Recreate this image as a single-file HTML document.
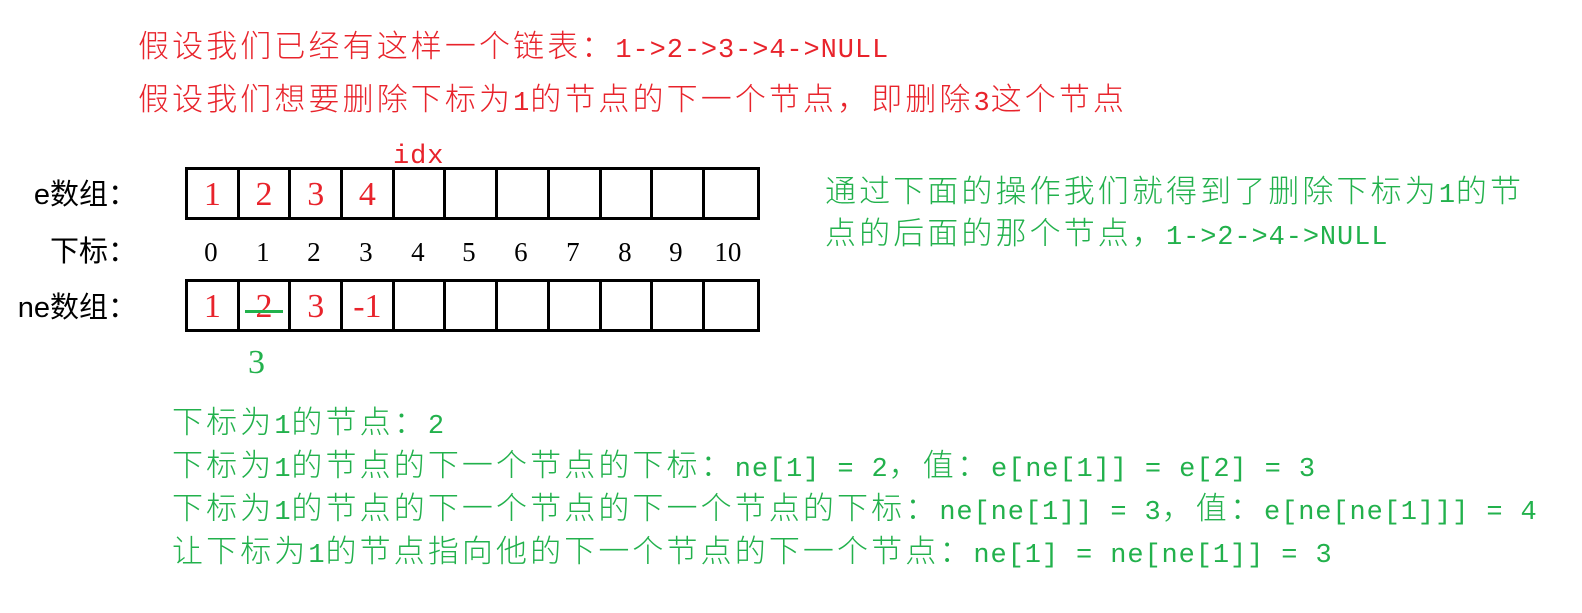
<!DOCTYPE html>
<html><head><meta charset="utf-8"><style>
body{margin:0;width:1582px;height:613px;background:#fff;position:relative;overflow:hidden;font-family:"Liberation Sans","Noto Sans CJK SC",sans-serif;}
.t{position:absolute;font-size:31px;letter-spacing:3.1px;white-space:nowrap;line-height:40px;font-weight:300;}
.l{font-family:"Liberation Mono",monospace;font-size:27px;letter-spacing:0.9px;}
.r{color:#e8232b}.g{color:#22b14c}
.row{position:absolute;left:185px;display:flex;border:3px solid #000;height:47px;box-sizing:content-box;}
.c{width:51.7px;height:47px;border-right:3px solid #000;box-sizing:border-box;font-family:"Liberation Serif",serif;font-size:34px;color:#e8232b;text-align:center;line-height:50px;position:relative;}
.c:last-child{border-right:none}
.idx{position:absolute;top:235px;font-family:"Liberation Serif",serif;font-size:27px;width:51.7px;text-align:center;line-height:34px;}
.lab{position:absolute;right:1445px;font-size:29px;line-height:40px;white-space:nowrap;font-family:"Liberation Sans","Noto Sans CJK SC",sans-serif;}
</style></head><body>
<div class="t r" style="left:138px;top:27px">假设我们已经有这样一个链表：<span class="l">1-&gt;2-&gt;3-&gt;4-&gt;NULL</span></div>
<div class="t r" style="left:138px;top:80px">假设我们想要删除下标为<span class="l">1</span>的节点的下一个节点，即删除<span class="l">3</span>这个节点</div>
<div class="t r" style="left:393px;top:133px"><span class="l">idx</span></div>

<div class="lab" style="top:175px">e数组：</div>
<div class="lab" style="top:232px">下标：</div>
<div class="lab" style="top:288px">ne数组：</div>

<div class="row" style="top:167px">
<div class="c">1</div><div class="c">2</div><div class="c">3</div><div class="c">4</div><div class="c"></div><div class="c"></div><div class="c"></div><div class="c"></div><div class="c"></div><div class="c"></div><div class="c"></div>
</div>
<div class="idx" style="left:185px">0</div><div class="idx" style="left:237px">1</div><div class="idx" style="left:288px">2</div><div class="idx" style="left:340px">3</div><div class="idx" style="left:392px">4</div><div class="idx" style="left:443px">5</div><div class="idx" style="left:495px">6</div><div class="idx" style="left:547px">7</div><div class="idx" style="left:599px">8</div><div class="idx" style="left:650px">9</div><div class="idx" style="left:702px">10</div>
<div class="row" style="top:279px">
<div class="c">1</div><div class="c">2<div style="position:absolute;left:5px;top:28px;width:38px;height:3px;background:#22b14c"></div></div><div class="c">3</div><div class="c">-1</div><div class="c"></div><div class="c"></div><div class="c"></div><div class="c"></div><div class="c"></div><div class="c"></div><div class="c"></div>
</div>
<div style="position:absolute;left:248px;top:343px;font-family:'Liberation Serif',serif;font-size:34px;color:#22b14c;line-height:40px">3</div>

<div class="t g" style="left:825px;top:172px">通过下面的操作我们就得到了删除下标为<span class="l">1</span>的节</div>
<div class="t g" style="left:825px;top:214px">点的后面的那个节点，<span class="l">1-&gt;2-&gt;4-&gt;NULL</span></div>

<div class="t g" style="left:172px;top:403px">下标为<span class="l">1</span>的节点：<span class="l">2</span></div>
<div class="t g" style="left:172px;top:446px">下标为<span class="l">1</span>的节点的下一个节点的下标：<span class="l">ne[1] = 2</span>，值：<span class="l">e[ne[1]] = e[2] = 3</span></div>
<div class="t g" style="left:172px;top:489px">下标为<span class="l">1</span>的节点的下一个节点的下一个节点的下标：<span class="l">ne[ne[1]] = 3</span>，值：<span class="l">e[ne[ne[1]]] = 4</span></div>
<div class="t g" style="left:172px;top:532px">让下标为<span class="l">1</span>的节点指向他的下一个节点的下一个节点：<span class="l">ne[1] = ne[ne[1]] = 3</span></div>
</body></html>
